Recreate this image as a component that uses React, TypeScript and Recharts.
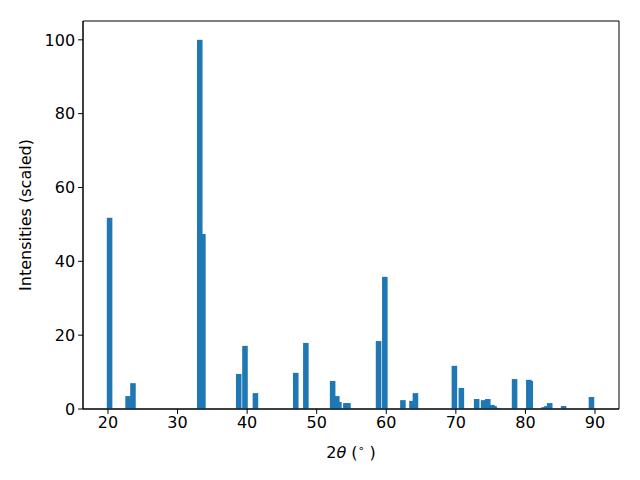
import { ComposedChart, Bar, XAxis, YAxis, ReferenceArea } from "recharts";

// peak positions (2theta, degrees) and scaled intensities
const twoTheta = [
  20.24, 22.9, 23.6, 33.2, 33.65, 38.8, 39.7, 41.2, 47.0, 48.45, 52.3, 52.9, 53.2, 54.2, 54.5,
  58.9, 59.8, 62.4, 63.7, 64.2, 69.8, 70.8, 73.0, 73.4, 74.0, 74.6, 75.2, 75.5, 75.9, 78.45,
  80.5, 80.7, 82.7, 83.1, 83.5, 85.5, 89.5,
];
const intensity = [
  51.8, 3.5, 7.0, 100, 47.4, 9.5, 17.1, 4.3, 9.8, 17.9, 7.6, 3.5, 1.9, 1.6, 1.6,
  18.4, 35.8, 2.4, 2.2, 4.3, 11.7, 5.7, 2.7, 0.3, 2.4, 2.7, 1.1, 0.8, 0.3, 8.1,
  7.9, 7.6, 0.5, 0.8, 1.6, 0.8, 3.25,
];
const xTicks = [20, 30, 40, 50, 60, 70, 80, 90];
const yTicks = [0, 20, 40, 60, 80, 100];
const xDomain = [16.41, 93.45];
const yDomain = [0, 105.1];

const font = "'DejaVu Sans', sans-serif";
const fs = 16;
const BAR_W = 5.56; // 0.8 units wide, like matplotlib's default

const PeakBar = (props: any) => {
  const { x, y, width, height, fill } = props;
  if (!height) return null;
  return <rect x={x + width / 2 - BAR_W / 2} y={y} width={BAR_W} height={height} fill={fill} />;
};

const XLabel = ({ viewBox }: any) => {
  const cx = viewBox.x + viewBox.width / 2;
  return (
    <text x={cx} y={458} textAnchor="middle" style={{ fontFamily: font, fontSize: fs }} fill="#000">
      <tspan>2</tspan>
      <tspan fontStyle="italic">θ</tspan>
      <tspan> (</tspan>
      <tspan style={{ fontSize: 11 }} dy={-6}>∘</tspan>
      <tspan dy={6}> )</tspan>
    </text>
  );
};

const YLabel = ({ viewBox }: any) => {
  const cy = viewBox.y + viewBox.height / 2;
  return (
    <text
      x={31}
      y={cy}
      textAnchor="middle"
      style={{ fontFamily: font, fontSize: fs }}
      fill="#000"
      transform={`rotate(-90, 31, ${cy})`}
    >
      Intensities (scaled)
    </text>
  );
};

export default function App() {
  const data = twoTheta.map((x, i) => ({ x, y: intensity[i] }));

  return (
    <div style={{ position: "absolute", left: 0, top: 0, width: 640, height: 480, background: "#fff" }}>
      <ComposedChart width={640} height={480} data={data} margin={{ top: 21, right: 21, left: 0, bottom: 0 }}>
        <XAxis
          dataKey="x"
          type="number"
          domain={xDomain}
          ticks={xTicks}
          allowDataOverflow
          height={71}
          stroke="#000"
          tickSize={4.9}
          tickMargin={3}
          tick={{ fill: "#000", fontSize: fs, fontFamily: font }}
          label={<XLabel />}
        />
        <YAxis
          type="number"
          domain={yDomain}
          ticks={yTicks}
          allowDataOverflow
          width={83}
          stroke="#000"
          tickSize={4.9}
          tickMargin={3}
          tick={{ fill: "#000", fontSize: fs, fontFamily: font }}
          label={<YLabel />}
        />
        <Bar dataKey="y" fill="#1f77b4" shape={<PeakBar />} isAnimationActive={false} />
        <ReferenceArea
          x1={xDomain[0]}
          x2={xDomain[1]}
          y1={yDomain[0]}
          y2={yDomain[1]}
          fill="none"
          stroke="#000"
          strokeWidth={1}
          ifOverflow="visible"
        />
      </ComposedChart>
    </div>
  );
}
